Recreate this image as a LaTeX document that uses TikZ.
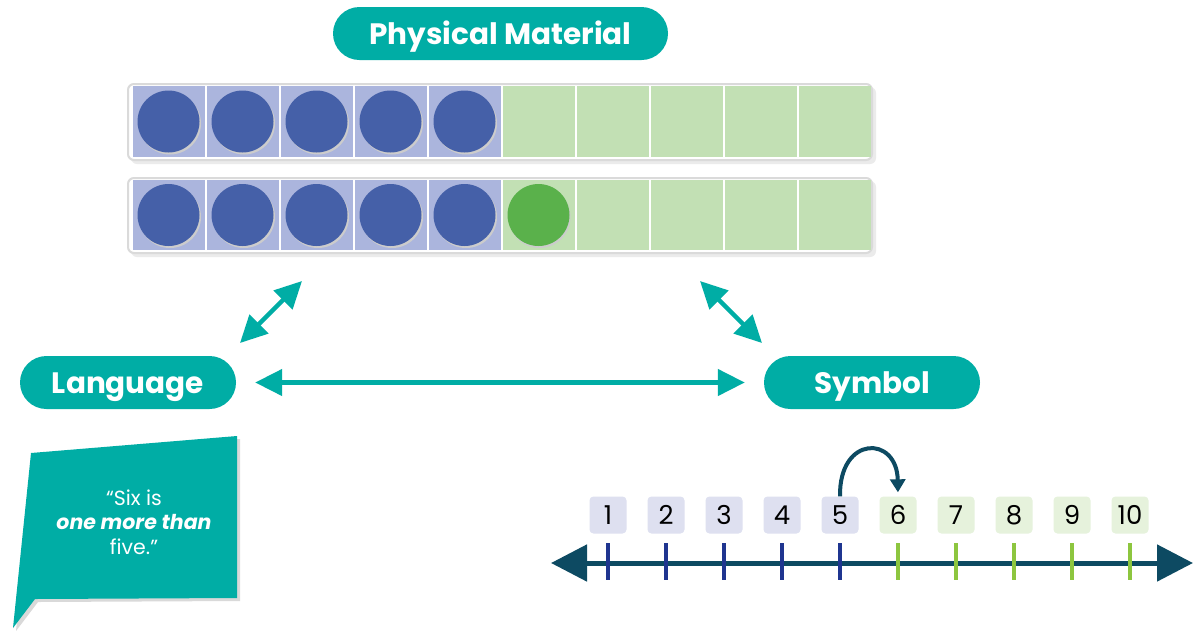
\documentclass[tikz,border=0pt]{standalone}
\usepackage{fontspec}
\setmainfont{Poppins}
\usetikzlibrary{arrows.meta}
\definecolor{tealc}{HTML}{00ADA5}
\definecolor{cellblue}{HTML}{ABB5DD}
\definecolor{cellgreen}{HTML}{C2E0B4}
\definecolor{dotblue}{HTML}{4560A8}
\definecolor{dotgreen}{HTML}{5AB14B}
\definecolor{navyc}{HTML}{0D4A62}
\definecolor{tickblue}{HTML}{1F3590}
\definecolor{tickgreen}{HTML}{8DC63F}
\definecolor{boxblue}{HTML}{DEE0F0}
\definecolor{boxgreen}{HTML}{E6F2DC}
\definecolor{framegray}{HTML}{DADADA}
\begin{document}
\begin{tikzpicture}[x=1pt,y=-1pt,
  pill/.style={fill=tealc, rounded corners=26.5pt, text=white, font=\bfseries\fontsize{29.5}{32}\selectfont, minimum height=53pt, inner sep=0pt, text height=21pt, text depth=0pt},
  dbl/.style={draw=tealc, line width=4.5pt, {Triangle[length=27pt,width=26pt]}-{Triangle[length=27pt,width=26pt]}},
  tframe/.style={draw=framegray, line width=2pt, fill=white, rounded corners=6pt},
  numbox/.style={minimum width=37pt, minimum height=37pt, rounded corners=4pt, inner sep=0pt, font=\fontsize{26}{28}\selectfont, text=black, text height=18.5pt, text depth=0pt},
  tick/.style={line width=4.5pt},
  nlarrow/.style={draw=navyc, line width=5pt, {Triangle[length=36pt,width=36pt]}-{Triangle[length=36pt,width=36pt]}},
  jump/.style={draw=navyc, line width=4pt, -{Triangle[length=13pt,width=15pt]}}
]
\useasboundingbox (0,0) rectangle (1204,630);
\fill[white] (0,0) rectangle (1204,630);

% pills
\node[pill, minimum width=335pt] (pm) at (500.5,33.5) {Physical Material};
\node[pill, minimum width=216pt] (lang) at (128,382.5) {Language};
\node[pill, minimum width=216pt] (sym) at (872,382.5) {Symbol};

% ten frames
\foreach \top/\bot in {84/160, 178/253}{
  \fill[black!8] (131,\top+3) [rounded corners=6pt] rectangle (876,\bot+4);
  \draw[tframe] (128,\top) rectangle (872,\bot);
}
\foreach \i in {0,...,4}{
  \pgfmathsetmacro{\cx}{168.5+74*\i}
  \fill[cellblue] (\cx-36,86) rectangle (\cx+36,157);
  \fill[cellblue] (\cx-36,180) rectangle (\cx+36,250);
}
\foreach \i in {5,...,9}{
  \pgfmathsetmacro{\cx}{168.5+74*\i}
  \fill[cellgreen] (\cx-36,86) rectangle (\cx+36,157);
  \fill[cellgreen] (\cx-36,180) rectangle (\cx+36,250);
}
\foreach \i in {0,...,4}{
  \pgfmathsetmacro{\cx}{168.5+74*\i}
  \fill[black!20] (\cx+1.5,123.5) circle (31);
  \fill[dotblue] (\cx,121.5) circle (31);
  \fill[black!20] (\cx+1.5,217) circle (31);
  \fill[dotblue] (\cx,215) circle (31);
}
\fill[black!20] (539.5,217) circle (31);
\fill[dotgreen] (538.5,215) circle (31);

% arrows of the triangle
\coordinate (a1) at (240,343);
\coordinate (a2) at (302,281);
\coordinate (b1) at (700,281);
\coordinate (b2) at (762,343);
\draw[dbl] (a1) -- (a2);
\draw[dbl] (b1) -- (b2);
\draw[dbl, shorten <=19pt, shorten >=19pt] (lang) -- (sym);

% speech bubble
\fill[black!15] (34,456) -- (240,439) -- (240,601) -- (38,602) -- (16,631) -- cycle;
\fill[tealc] (31,453) -- (237,436) -- (237,598) -- (35,599) -- (13,628) -- cycle;
\node[text=white, align=center, font=\fontsize{20.5}{24.5}\selectfont] (quote) at (134,522)
  {“Six is\\ \textbf{\textit{one more than}}\\ five.”};

% number line
\coordinate (nlL) at (551,563);
\coordinate (nlR) at (1193,563);
\draw[nlarrow] (nlL) -- (nlR);
\foreach \i in {1,...,5}{
  \pgfmathsetmacro{\cx}{608+58*(\i-1)}
  \draw[tick, tickblue] (\cx,543) -- (\cx,580);
  \node[numbox, fill=boxblue] (n\i) at (\cx,515) {\i};
}
\foreach \i in {6,...,10}{
  \pgfmathsetmacro{\cx}{608+58*(\i-1)}
  \draw[tick, tickgreen] (\cx,543) -- (\cx,580);
  \node[numbox, fill=boxgreen] (n\i) at (\cx,515) {\i};
}
\draw[jump, shorten >=4pt] (n5.north) .. controls (839,435) and (897,435) .. (n6.north);
\end{tikzpicture}
\end{document}
